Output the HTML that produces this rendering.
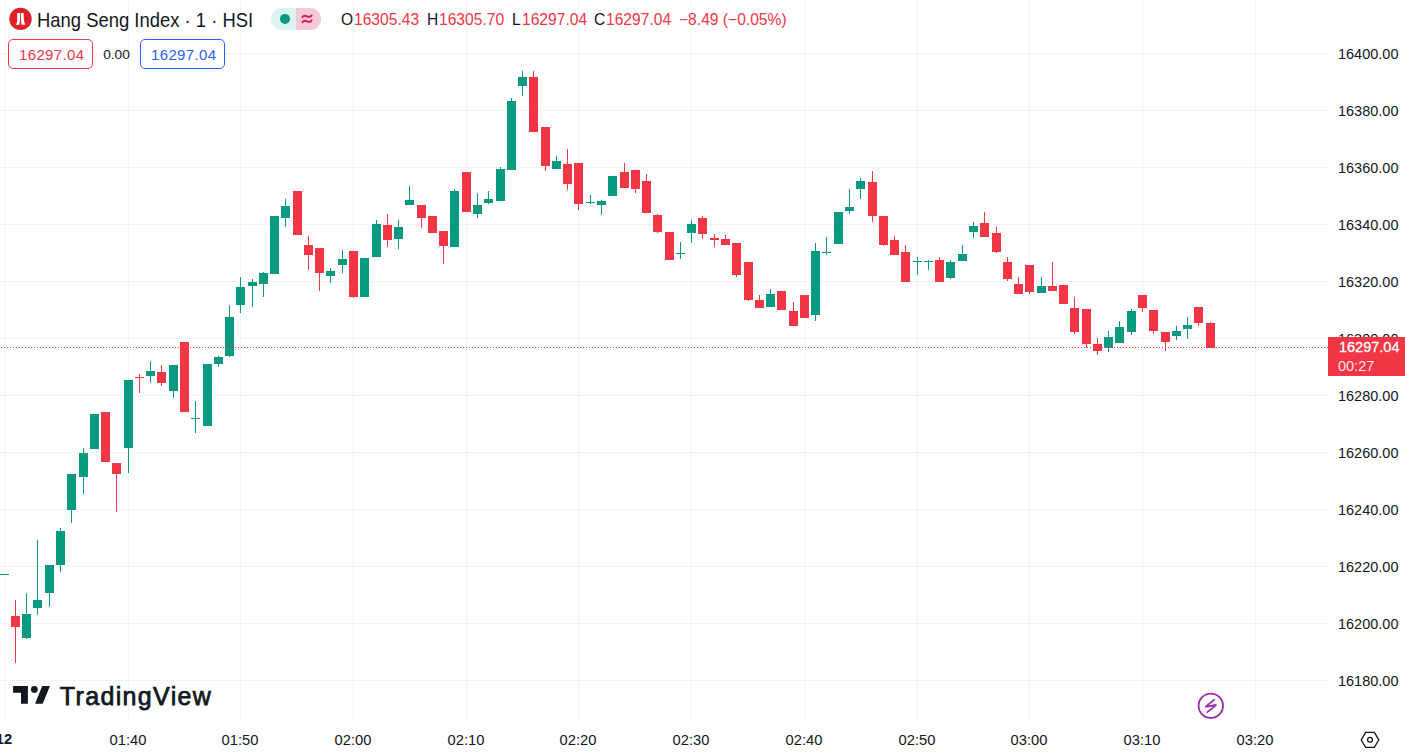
<!DOCTYPE html>
<html><head><meta charset="utf-8"><style>
*{margin:0;padding:0;box-sizing:border-box}
html,body{width:1405px;height:756px;overflow:hidden;background:#fff}
body{position:relative;font-family:"Liberation Sans",sans-serif;color:#131722}
svg{position:absolute;display:block}
.pl{position:absolute;left:1338px;width:70px;height:18px;line-height:18px;font-size:15.5px;color:#131722;white-space:nowrap;transform:scaleX(0.935);transform-origin:0 0}
.tl{position:absolute;top:730.5px;width:60px;text-align:center;font-size:15.5px;line-height:18px;color:#131722;transform:scaleX(0.95)}
.a{position:absolute;white-space:nowrap;line-height:20px}
.t{font-size:19.8px;top:9.6px;left:37.2px;transform:scaleX(0.932);transform-origin:0 0;color:#131722}
.o{font-size:15.7px;top:10.2px;letter-spacing:0px;transform:scaleX(0.995);transform-origin:0 0}
.r{color:#f23645}
.box{position:absolute;top:39px;height:30px;width:85px;border:1px solid;border-radius:5px;font-size:15px;line-height:30px;padding-left:10px;letter-spacing:0.35px;background:#fff}
.lbl{position:absolute;left:1328px;top:337px;width:77px;height:39px;background:#f23645;color:#fff;font-size:14.5px}
</style></head><body>
<svg width="1405" height="756" viewBox="0 0 1405 756" shape-rendering="crispEdges" style="left:0;top:0">
<rect x="0" y="53" width="1328" height="1" fill="rgba(42,46,57,0.06)"/>
<rect x="0" y="110" width="1328" height="1" fill="rgba(42,46,57,0.06)"/>
<rect x="0" y="167" width="1328" height="1" fill="rgba(42,46,57,0.06)"/>
<rect x="0" y="224" width="1328" height="1" fill="rgba(42,46,57,0.06)"/>
<rect x="0" y="281" width="1328" height="1" fill="rgba(42,46,57,0.06)"/>
<rect x="0" y="338" width="1328" height="1" fill="rgba(42,46,57,0.06)"/>
<rect x="0" y="395" width="1328" height="1" fill="rgba(42,46,57,0.06)"/>
<rect x="0" y="452" width="1328" height="1" fill="rgba(42,46,57,0.06)"/>
<rect x="0" y="509" width="1328" height="1" fill="rgba(42,46,57,0.06)"/>
<rect x="0" y="566" width="1328" height="1" fill="rgba(42,46,57,0.06)"/>
<rect x="0" y="623" width="1328" height="1" fill="rgba(42,46,57,0.06)"/>
<rect x="0" y="680" width="1328" height="1" fill="rgba(42,46,57,0.06)"/>
<rect x="4" y="0" width="1" height="722" fill="rgba(42,46,57,0.06)"/>
<rect x="128" y="0" width="1" height="722" fill="rgba(42,46,57,0.06)"/>
<rect x="240" y="0" width="1" height="722" fill="rgba(42,46,57,0.06)"/>
<rect x="353" y="0" width="1" height="722" fill="rgba(42,46,57,0.06)"/>
<rect x="466" y="0" width="1" height="722" fill="rgba(42,46,57,0.06)"/>
<rect x="578" y="0" width="1" height="722" fill="rgba(42,46,57,0.06)"/>
<rect x="691" y="0" width="1" height="722" fill="rgba(42,46,57,0.06)"/>
<rect x="804" y="0" width="1" height="722" fill="rgba(42,46,57,0.06)"/>
<rect x="917" y="0" width="1" height="722" fill="rgba(42,46,57,0.06)"/>
<rect x="1029" y="0" width="1" height="722" fill="rgba(42,46,57,0.06)"/>
<rect x="1142" y="0" width="1" height="722" fill="rgba(42,46,57,0.06)"/>
<rect x="1255" y="0" width="1" height="722" fill="rgba(42,46,57,0.06)"/>
<rect x="0" y="574" width="9" height="1" fill="#089981"/>
<rect x="15" y="600" width="1" height="63" fill="#f23645"/>
<rect x="11" y="616" width="9" height="11" fill="#f23645"/>
<rect x="26" y="593" width="1" height="46" fill="#089981"/>
<rect x="22" y="614" width="9" height="24" fill="#089981"/>
<rect x="37" y="540" width="1" height="75" fill="#089981"/>
<rect x="33" y="600" width="9" height="8" fill="#089981"/>
<rect x="49" y="565" width="1" height="42" fill="#089981"/>
<rect x="45" y="565" width="9" height="28" fill="#089981"/>
<rect x="60" y="528" width="1" height="44" fill="#089981"/>
<rect x="56" y="531" width="9" height="34" fill="#089981"/>
<rect x="71" y="474" width="1" height="49" fill="#089981"/>
<rect x="67" y="474" width="9" height="36" fill="#089981"/>
<rect x="83" y="448" width="1" height="46" fill="#089981"/>
<rect x="79" y="453" width="9" height="24" fill="#089981"/>
<rect x="94" y="414" width="1" height="35" fill="#089981"/>
<rect x="90" y="414" width="9" height="35" fill="#089981"/>
<rect x="105" y="412" width="1" height="50" fill="#f23645"/>
<rect x="101" y="412" width="9" height="50" fill="#f23645"/>
<rect x="116" y="463" width="1" height="49" fill="#f23645"/>
<rect x="112" y="463" width="9" height="11" fill="#f23645"/>
<rect x="128" y="380" width="1" height="93" fill="#089981"/>
<rect x="124" y="380" width="9" height="68" fill="#089981"/>
<rect x="139" y="374" width="1" height="19" fill="#f23645"/>
<rect x="135" y="377" width="9" height="1" fill="#f23645"/>
<rect x="150" y="361" width="1" height="22" fill="#089981"/>
<rect x="146" y="371" width="9" height="5" fill="#089981"/>
<rect x="161" y="365" width="1" height="21" fill="#f23645"/>
<rect x="157" y="372" width="9" height="11" fill="#f23645"/>
<rect x="173" y="365" width="1" height="33" fill="#089981"/>
<rect x="169" y="365" width="9" height="26" fill="#089981"/>
<rect x="184" y="342" width="1" height="70" fill="#f23645"/>
<rect x="180" y="342" width="9" height="70" fill="#f23645"/>
<rect x="195" y="401" width="1" height="32" fill="#089981"/>
<rect x="191" y="418" width="9" height="1" fill="#089981"/>
<rect x="207" y="364" width="1" height="62" fill="#089981"/>
<rect x="203" y="364" width="9" height="62" fill="#089981"/>
<rect x="218" y="356" width="1" height="11" fill="#089981"/>
<rect x="214" y="357" width="9" height="7" fill="#089981"/>
<rect x="229" y="305" width="1" height="52" fill="#089981"/>
<rect x="225" y="317" width="9" height="39" fill="#089981"/>
<rect x="240" y="277" width="1" height="36" fill="#089981"/>
<rect x="236" y="287" width="9" height="18" fill="#089981"/>
<rect x="252" y="279" width="1" height="28" fill="#089981"/>
<rect x="248" y="282" width="9" height="4" fill="#089981"/>
<rect x="263" y="272" width="1" height="25" fill="#089981"/>
<rect x="259" y="273" width="9" height="11" fill="#089981"/>
<rect x="274" y="216" width="1" height="58" fill="#089981"/>
<rect x="270" y="216" width="9" height="58" fill="#089981"/>
<rect x="285" y="199" width="1" height="28" fill="#089981"/>
<rect x="281" y="206" width="9" height="12" fill="#089981"/>
<rect x="297" y="191" width="1" height="44" fill="#f23645"/>
<rect x="293" y="191" width="9" height="44" fill="#f23645"/>
<rect x="308" y="236" width="1" height="34" fill="#f23645"/>
<rect x="304" y="245" width="9" height="10" fill="#f23645"/>
<rect x="319" y="248" width="1" height="43" fill="#f23645"/>
<rect x="315" y="248" width="9" height="25" fill="#f23645"/>
<rect x="330" y="268" width="1" height="15" fill="#089981"/>
<rect x="326" y="271" width="9" height="5" fill="#089981"/>
<rect x="342" y="250" width="1" height="23" fill="#089981"/>
<rect x="338" y="259" width="9" height="6" fill="#089981"/>
<rect x="353" y="251" width="1" height="47" fill="#f23645"/>
<rect x="349" y="251" width="9" height="46" fill="#f23645"/>
<rect x="364" y="258" width="1" height="39" fill="#089981"/>
<rect x="360" y="258" width="9" height="39" fill="#089981"/>
<rect x="376" y="220" width="1" height="37" fill="#089981"/>
<rect x="372" y="224" width="9" height="33" fill="#089981"/>
<rect x="387" y="214" width="1" height="33" fill="#f23645"/>
<rect x="383" y="225" width="9" height="15" fill="#f23645"/>
<rect x="398" y="220" width="1" height="29" fill="#089981"/>
<rect x="394" y="227" width="9" height="12" fill="#089981"/>
<rect x="409" y="186" width="1" height="19" fill="#089981"/>
<rect x="405" y="200" width="9" height="5" fill="#089981"/>
<rect x="421" y="205" width="1" height="23" fill="#f23645"/>
<rect x="417" y="205" width="9" height="13" fill="#f23645"/>
<rect x="432" y="216" width="1" height="17" fill="#f23645"/>
<rect x="428" y="216" width="9" height="17" fill="#f23645"/>
<rect x="443" y="231" width="1" height="33" fill="#f23645"/>
<rect x="439" y="231" width="9" height="15" fill="#f23645"/>
<rect x="454" y="189" width="1" height="58" fill="#089981"/>
<rect x="450" y="191" width="9" height="56" fill="#089981"/>
<rect x="466" y="172" width="1" height="40" fill="#f23645"/>
<rect x="462" y="172" width="9" height="40" fill="#f23645"/>
<rect x="477" y="193" width="1" height="25" fill="#089981"/>
<rect x="473" y="205" width="9" height="9" fill="#089981"/>
<rect x="488" y="191" width="1" height="13" fill="#089981"/>
<rect x="484" y="199" width="9" height="4" fill="#089981"/>
<rect x="500" y="167" width="1" height="34" fill="#089981"/>
<rect x="496" y="169" width="9" height="32" fill="#089981"/>
<rect x="511" y="98" width="1" height="72" fill="#089981"/>
<rect x="507" y="101" width="9" height="69" fill="#089981"/>
<rect x="522" y="71" width="1" height="25" fill="#089981"/>
<rect x="518" y="77" width="9" height="9" fill="#089981"/>
<rect x="533" y="71" width="1" height="61" fill="#f23645"/>
<rect x="529" y="77" width="9" height="55" fill="#f23645"/>
<rect x="545" y="127" width="1" height="44" fill="#f23645"/>
<rect x="541" y="127" width="9" height="39" fill="#f23645"/>
<rect x="556" y="156" width="1" height="13" fill="#089981"/>
<rect x="552" y="161" width="9" height="8" fill="#089981"/>
<rect x="567" y="149" width="1" height="41" fill="#f23645"/>
<rect x="563" y="164" width="9" height="20" fill="#f23645"/>
<rect x="578" y="163" width="1" height="47" fill="#f23645"/>
<rect x="574" y="163" width="9" height="41" fill="#f23645"/>
<rect x="590" y="195" width="1" height="9" fill="#089981"/>
<rect x="586" y="202" width="9" height="1" fill="#089981"/>
<rect x="601" y="200" width="1" height="15" fill="#089981"/>
<rect x="597" y="201" width="9" height="4" fill="#089981"/>
<rect x="612" y="176" width="1" height="20" fill="#089981"/>
<rect x="608" y="176" width="9" height="20" fill="#089981"/>
<rect x="624" y="163" width="1" height="25" fill="#f23645"/>
<rect x="620" y="172" width="9" height="16" fill="#f23645"/>
<rect x="635" y="170" width="1" height="23" fill="#f23645"/>
<rect x="631" y="170" width="9" height="19" fill="#f23645"/>
<rect x="646" y="174" width="1" height="39" fill="#f23645"/>
<rect x="642" y="181" width="9" height="32" fill="#f23645"/>
<rect x="657" y="214" width="1" height="19" fill="#f23645"/>
<rect x="653" y="215" width="9" height="17" fill="#f23645"/>
<rect x="669" y="232" width="1" height="28" fill="#f23645"/>
<rect x="665" y="232" width="9" height="28" fill="#f23645"/>
<rect x="680" y="242" width="1" height="17" fill="#089981"/>
<rect x="676" y="253" width="9" height="1" fill="#089981"/>
<rect x="691" y="220" width="1" height="23" fill="#089981"/>
<rect x="687" y="224" width="9" height="9" fill="#089981"/>
<rect x="702" y="216" width="1" height="23" fill="#f23645"/>
<rect x="698" y="218" width="9" height="16" fill="#f23645"/>
<rect x="714" y="234" width="1" height="13" fill="#f23645"/>
<rect x="710" y="238" width="9" height="2" fill="#f23645"/>
<rect x="725" y="235" width="1" height="10" fill="#f23645"/>
<rect x="721" y="239" width="9" height="6" fill="#f23645"/>
<rect x="736" y="243" width="1" height="34" fill="#f23645"/>
<rect x="732" y="243" width="9" height="32" fill="#f23645"/>
<rect x="748" y="262" width="1" height="39" fill="#f23645"/>
<rect x="744" y="262" width="9" height="38" fill="#f23645"/>
<rect x="759" y="295" width="1" height="13" fill="#f23645"/>
<rect x="755" y="300" width="9" height="8" fill="#f23645"/>
<rect x="770" y="289" width="1" height="18" fill="#089981"/>
<rect x="766" y="294" width="9" height="13" fill="#089981"/>
<rect x="781" y="291" width="1" height="19" fill="#f23645"/>
<rect x="777" y="291" width="9" height="19" fill="#f23645"/>
<rect x="793" y="302" width="1" height="24" fill="#f23645"/>
<rect x="789" y="311" width="9" height="15" fill="#f23645"/>
<rect x="804" y="295" width="1" height="23" fill="#f23645"/>
<rect x="800" y="295" width="9" height="23" fill="#f23645"/>
<rect x="815" y="243" width="1" height="78" fill="#089981"/>
<rect x="811" y="251" width="9" height="64" fill="#089981"/>
<rect x="826" y="237" width="1" height="18" fill="#089981"/>
<rect x="822" y="252" width="9" height="1" fill="#089981"/>
<rect x="838" y="212" width="1" height="32" fill="#089981"/>
<rect x="834" y="212" width="9" height="32" fill="#089981"/>
<rect x="849" y="189" width="1" height="25" fill="#089981"/>
<rect x="845" y="207" width="9" height="4" fill="#089981"/>
<rect x="860" y="178" width="1" height="21" fill="#089981"/>
<rect x="856" y="181" width="9" height="8" fill="#089981"/>
<rect x="872" y="171" width="1" height="51" fill="#f23645"/>
<rect x="868" y="182" width="9" height="34" fill="#f23645"/>
<rect x="883" y="216" width="1" height="30" fill="#f23645"/>
<rect x="879" y="216" width="9" height="29" fill="#f23645"/>
<rect x="894" y="236" width="1" height="19" fill="#f23645"/>
<rect x="890" y="240" width="9" height="15" fill="#f23645"/>
<rect x="905" y="245" width="1" height="37" fill="#f23645"/>
<rect x="901" y="252" width="9" height="30" fill="#f23645"/>
<rect x="917" y="257" width="1" height="18" fill="#089981"/>
<rect x="913" y="261" width="9" height="1" fill="#089981"/>
<rect x="928" y="260" width="1" height="10" fill="#089981"/>
<rect x="924" y="261" width="9" height="1" fill="#089981"/>
<rect x="939" y="257" width="1" height="25" fill="#f23645"/>
<rect x="935" y="260" width="9" height="22" fill="#f23645"/>
<rect x="950" y="260" width="1" height="19" fill="#089981"/>
<rect x="946" y="262" width="9" height="16" fill="#089981"/>
<rect x="962" y="245" width="1" height="16" fill="#089981"/>
<rect x="958" y="254" width="9" height="7" fill="#089981"/>
<rect x="973" y="222" width="1" height="16" fill="#089981"/>
<rect x="969" y="226" width="9" height="6" fill="#089981"/>
<rect x="984" y="212" width="1" height="25" fill="#f23645"/>
<rect x="980" y="223" width="9" height="14" fill="#f23645"/>
<rect x="996" y="227" width="1" height="26" fill="#f23645"/>
<rect x="992" y="233" width="9" height="19" fill="#f23645"/>
<rect x="1007" y="257" width="1" height="24" fill="#f23645"/>
<rect x="1003" y="262" width="9" height="17" fill="#f23645"/>
<rect x="1018" y="277" width="1" height="17" fill="#f23645"/>
<rect x="1014" y="284" width="9" height="10" fill="#f23645"/>
<rect x="1029" y="265" width="1" height="29" fill="#f23645"/>
<rect x="1025" y="265" width="9" height="27" fill="#f23645"/>
<rect x="1041" y="277" width="1" height="16" fill="#089981"/>
<rect x="1037" y="286" width="9" height="7" fill="#089981"/>
<rect x="1052" y="262" width="1" height="29" fill="#f23645"/>
<rect x="1048" y="286" width="9" height="5" fill="#f23645"/>
<rect x="1063" y="285" width="1" height="19" fill="#f23645"/>
<rect x="1059" y="285" width="9" height="19" fill="#f23645"/>
<rect x="1074" y="297" width="1" height="37" fill="#f23645"/>
<rect x="1070" y="308" width="9" height="24" fill="#f23645"/>
<rect x="1086" y="309" width="1" height="39" fill="#f23645"/>
<rect x="1082" y="309" width="9" height="35" fill="#f23645"/>
<rect x="1097" y="338" width="1" height="17" fill="#f23645"/>
<rect x="1093" y="344" width="9" height="7" fill="#f23645"/>
<rect x="1108" y="331" width="1" height="21" fill="#089981"/>
<rect x="1104" y="337" width="9" height="11" fill="#089981"/>
<rect x="1119" y="321" width="1" height="22" fill="#089981"/>
<rect x="1115" y="327" width="9" height="16" fill="#089981"/>
<rect x="1131" y="309" width="1" height="26" fill="#089981"/>
<rect x="1127" y="311" width="9" height="21" fill="#089981"/>
<rect x="1142" y="295" width="1" height="17" fill="#f23645"/>
<rect x="1138" y="295" width="9" height="13" fill="#f23645"/>
<rect x="1153" y="310" width="1" height="24" fill="#f23645"/>
<rect x="1149" y="310" width="9" height="21" fill="#f23645"/>
<rect x="1165" y="332" width="1" height="19" fill="#f23645"/>
<rect x="1161" y="332" width="9" height="10" fill="#f23645"/>
<rect x="1176" y="326" width="1" height="14" fill="#089981"/>
<rect x="1172" y="331" width="9" height="5" fill="#089981"/>
<rect x="1187" y="317" width="1" height="22" fill="#089981"/>
<rect x="1183" y="325" width="9" height="4" fill="#089981"/>
<rect x="1198" y="307" width="1" height="19" fill="#f23645"/>
<rect x="1194" y="307" width="9" height="16" fill="#f23645"/>
<rect x="1210" y="322" width="1" height="26" fill="#f23645"/>
<rect x="1206" y="323" width="9" height="25" fill="#f23645"/>
<defs><pattern id="dp" x="0" y="0" width="3" height="1" patternUnits="userSpaceOnUse"><rect x="1" y="0" width="1" height="1" fill="#f23645"/></pattern></defs><rect x="0" y="347" width="1328" height="1" fill="url(#dp)"/>
</svg>
<div class="pl" style="top:44.6px">16400.00</div>
<div class="pl" style="top:101.6px">16380.00</div>
<div class="pl" style="top:158.6px">16360.00</div>
<div class="pl" style="top:215.6px">16340.00</div>
<div class="pl" style="top:272.6px">16320.00</div>
<div class="pl" style="top:329.6px">16300.00</div>
<div class="pl" style="top:386.6px">16280.00</div>
<div class="pl" style="top:443.6px">16260.00</div>
<div class="pl" style="top:500.6px">16240.00</div>
<div class="pl" style="top:557.6px">16220.00</div>
<div class="pl" style="top:614.6px">16200.00</div>
<div class="pl" style="top:671.6px">16180.00</div>
<div class="lbl"><div style="position:absolute;left:10.5px;top:1.1px;line-height:18px;font-size:15.5px;transform:scaleX(0.935);transform-origin:0 0;-webkit-text-stroke:0.3px #fff">16297.04</div><div style="position:absolute;left:10px;top:19.6px;line-height:18px;font-size:15.5px;transform:scaleX(0.935);transform-origin:0 0;color:rgba(255,255,255,0.88)">00:27</div></div>
<div class="tl" style="left:98px">01:40</div>
<div class="tl" style="left:210px">01:50</div>
<div class="tl" style="left:323px">02:00</div>
<div class="tl" style="left:436px">02:10</div>
<div class="tl" style="left:548px">02:20</div>
<div class="tl" style="left:661px">02:30</div>
<div class="tl" style="left:774px">02:40</div>
<div class="tl" style="left:887px">02:50</div>
<div class="tl" style="left:999px">03:00</div>
<div class="tl" style="left:1112px">03:10</div>
<div class="tl" style="left:1225px">03:20</div>
<div class="tl" style="left:-25.8px;font-weight:bold;top:730.2px">12</div>
<!-- header -->
<svg width="40" height="40" viewBox="0 0 40 40" style="left:0;top:0">
<circle cx="20.5" cy="18.9" r="11.2" fill="#de2128"/>
<path d="M17.2 13H20.1V20L19.4 24.8H15.7C16.8 23.5 17.3 21.5 17.3 18.5Z M21 13H23.7C23.7 18 23.8 22 25.3 24.8H21.6L21 20Z" fill="#fff"/>
</svg>
<div class="a t">Hang Seng Index · 1 · HSI</div>
<svg width="50" height="22" viewBox="271 8 50 22" style="left:271px;top:8px">
<path d="M282 8H296V30H282A11 11 0 0 1 282 8Z" fill="#ddf3ef"/>
<path d="M296 8H310A11 11 0 0 1 310 30H296Z" fill="#f7c7da"/>
<circle cx="285" cy="18.9" r="5" fill="#089981"/>
<path d="M302.4 17.2C303.8 15.1 305.6 15.6 307 16.3C308.4 17 310.2 17.5 311.6 15.4M302.4 22.2C303.8 20.1 305.6 20.6 307 21.3C308.4 22 310.2 22.5 311.6 20.4" fill="none" stroke="#dc1a5e" stroke-width="1.9" stroke-linecap="round"/>
</svg>
<div class="a o" style="left:341px">O</div><div class="a o r" style="left:354px">16305.43</div>
<div class="a o" style="left:426.5px">H</div><div class="a o r" style="left:439px">16305.70</div>
<div class="a o" style="left:512px">L</div><div class="a o r" style="left:521.5px">16297.04</div>
<div class="a o" style="left:594px">C</div><div class="a o r" style="left:605.8px">16297.04</div>
<div class="a o r" style="left:678.5px">−8.49 (−0.05%)</div>
<div class="box r" style="left:8px;border-color:#f23645">16297.04</div>
<div class="a" style="left:103.2px;top:45px;font-size:13.7px;line-height:20px">0.00</div>
<div class="box" style="left:140px;border-color:#2962ff;color:#2962ff">16297.04</div>
<!-- footer logo -->
<svg width="50" height="30" viewBox="5 680 50 30" style="left:5px;top:680px"><path d="M13.1 686.1H27.9V703.8H21V692.7H13.1Z M42.2 686.1H49.9L42.7 703.8H35.1Z" fill="#131722"/><circle cx="34.35" cy="689.4" r="3.4" fill="#131722"/></svg>
<div class="a" style="left:59.8px;top:680.5px;font-size:25px;line-height:30px;color:#131722;letter-spacing:1.35px;-webkit-text-stroke:0.75px #131722">TradingView</div>
<svg width="28" height="28" viewBox="0 0 28 28" style="left:1197px;top:691.5px"><circle cx="13.8" cy="13.8" r="12.2" fill="none" stroke="#9c27b0" stroke-width="1.8"/><path d="M17.6 7.4 L8.4 14.9 L19.4 12.9 L9.7 20.6" fill="none" stroke="#9c27b0" stroke-width="1.7" stroke-linejoin="bevel"/></svg>
<svg width="22" height="18" viewBox="0 0 22 18" style="left:1359px;top:731px"><path d="M2.2 8.8 L6.6 1.3 H15.4 L19.8 8.8 L15.4 16.3 H6.6 Z" fill="none" stroke="#131722" stroke-width="1.3"/><circle cx="11" cy="8.8" r="2.4" fill="none" stroke="#131722" stroke-width="1.3"/></svg>
</body></html>
